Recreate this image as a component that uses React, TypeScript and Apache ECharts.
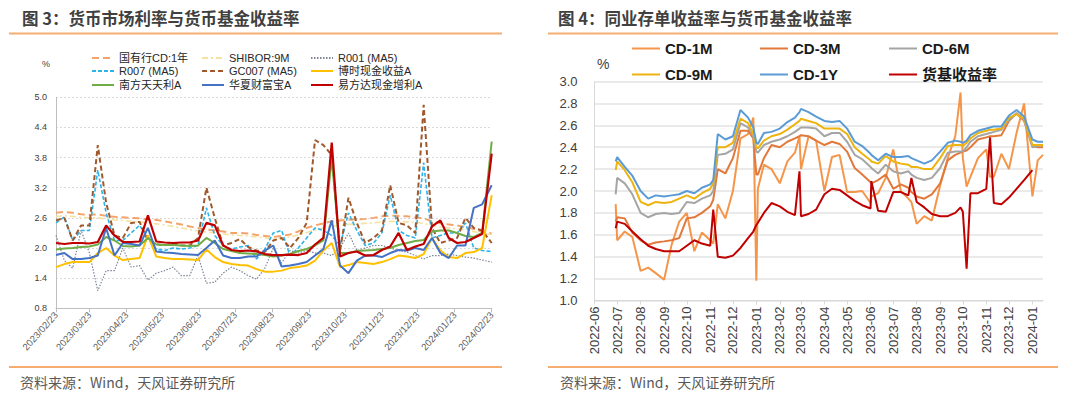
import React, { useEffect, useRef } from "react";
import * as echarts from "echarts";

// ---------------- Left chart (图3) ----------------
const leftDates = [
  "2023-02-23","2023-03-02","2023-03-09","2023-03-16","2023-03-23","2023-03-30","2023-04-06","2023-04-13","2023-04-20","2023-04-27",
  "2023-05-04","2023-05-11","2023-05-18","2023-05-25","2023-06-01","2023-06-08","2023-06-15","2023-06-22","2023-06-29","2023-07-06",
  "2023-07-13","2023-07-20","2023-07-27","2023-08-03","2023-08-10","2023-08-17","2023-08-24","2023-08-31","2023-09-07","2023-09-14",
  "2023-09-21","2023-09-28","2023-10-05","2023-10-12","2023-10-19","2023-10-26","2023-11-02","2023-11-09","2023-11-16","2023-11-23",
  "2023-11-30","2023-12-07","2023-12-14","2023-12-21","2023-12-28","2024-01-04","2024-01-11","2024-01-18","2024-01-25","2024-02-01",
  "2024-02-08","2024-02-15","2024-02-23"
];
const leftTickDates = [
  "2023-02-23","2023-03-23","2023-04-23","2023-05-23","2023-06-23","2023-07-23","2023-08-23",
  "2023-09-23","2023-10-23","2023-11-23","2023-12-23","2024-01-23","2024-02-23"
];
const cd1y = [2.70,2.72,2.70,2.67,2.66,2.67,2.64,2.62,2.61,2.60,2.59,2.57,2.56,2.53,2.50,2.47,2.43,2.40,2.37,2.35,2.33,2.30,2.30,2.29,2.26,2.24,2.22,2.24,2.27,2.33,2.40,2.45,2.49,2.53,2.55,2.56,2.57,2.58,2.60,2.63,2.64,2.64,2.63,2.61,2.59,2.53,2.49,2.47,2.45,2.42,2.38,2.32,2.29];
const shibor9m = [2.63,2.64,2.63,2.61,2.60,2.60,2.58,2.56,2.55,2.53,2.52,2.50,2.48,2.46,2.43,2.40,2.37,2.34,2.32,2.30,2.28,2.26,2.25,2.24,2.22,2.20,2.18,2.19,2.22,2.26,2.31,2.36,2.40,2.43,2.45,2.47,2.48,2.49,2.50,2.52,2.53,2.53,2.52,2.51,2.49,2.45,2.42,2.40,2.38,2.36,2.33,2.29,2.27];
const r001 = [2.25,1.75,1.60,2.35,1.90,1.15,1.55,1.55,2.00,1.62,1.65,1.36,1.50,1.55,1.62,1.45,1.45,1.85,1.30,1.32,1.50,1.62,1.55,1.45,1.38,1.60,
  2.00,1.70,1.95,1.90,1.95,1.90,1.90,1.85,2.00,2.30,1.95,2.00,2.05,2.05,2.00,1.95,1.92,1.85,1.78,1.85,1.85,1.88,1.85,1.82,1.80,1.76,1.72];
const r007 = [2.50,2.62,2.15,2.35,2.35,3.55,2.70,2.15,2.15,2.30,2.45,2.20,1.98,1.95,2.00,1.98,2.00,2.05,2.80,2.25,2.05,1.98,2.02,2.05,1.78,1.98,
  2.30,2.35,1.85,2.00,2.20,2.40,2.35,2.25,2.05,2.70,2.35,2.05,2.10,2.30,3.05,2.35,2.25,2.20,3.70,2.20,2.25,2.30,2.30,2.50,2.00,1.95,1.93];
const gc007 = [2.55,2.60,2.15,2.45,2.45,4.05,2.90,2.25,2.20,2.50,2.52,2.15,2.08,2.05,2.10,2.05,2.05,2.20,3.20,2.60,2.05,2.10,2.18,2.02,1.95,1.92,
  2.15,2.20,2.00,2.20,2.50,4.15,4.05,3.85,1.95,3.00,2.50,2.10,2.20,2.35,3.25,2.50,2.45,2.30,4.85,2.40,2.10,2.15,2.20,2.60,2.40,2.35,2.10];
const boshi = [1.62,1.68,1.72,1.72,1.72,1.90,2.00,1.85,1.76,1.78,1.80,2.25,1.83,1.80,1.78,1.78,1.77,1.76,1.97,1.82,1.72,1.68,1.66,1.65,1.58,1.53,
  1.53,1.55,1.60,1.62,1.65,1.75,1.95,2.10,1.62,1.66,1.72,1.70,1.68,1.72,1.78,1.85,1.83,1.80,1.88,2.20,1.95,1.82,1.80,1.90,1.92,2.00,3.05];
const nanfang = [1.97,1.99,2.00,2.02,2.03,2.07,2.22,2.15,2.04,2.03,2.05,2.20,2.07,2.06,2.06,2.05,2.04,2.05,2.20,2.10,1.98,1.94,1.90,1.89,1.88,1.86,
  1.83,1.85,1.88,1.94,1.98,2.05,2.15,3.80,1.90,1.90,1.94,1.95,1.96,1.98,2.00,2.06,2.10,2.14,2.16,2.33,2.35,2.35,2.30,2.24,2.22,2.30,4.12];
const huaxia = [1.86,1.90,1.78,1.78,1.80,1.85,2.40,1.85,2.10,2.08,2.05,2.40,1.93,1.91,1.90,1.88,1.87,1.86,2.00,2.15,1.85,1.80,1.80,1.83,1.83,1.95,
  2.05,1.63,1.65,1.68,1.72,1.85,1.98,2.55,1.65,1.50,1.75,1.85,1.85,1.82,1.90,1.96,1.95,2.00,1.96,2.20,1.90,1.80,2.05,2.05,2.80,2.87,3.25];
const yifangda = [2.10,2.08,2.10,2.10,2.09,2.12,2.45,2.25,2.12,2.12,2.13,2.65,2.13,2.11,2.10,2.11,2.11,2.15,2.50,2.45,2.05,1.96,1.94,1.95,1.93,1.88,
  1.86,1.86,1.87,1.86,1.90,2.07,2.20,4.10,1.83,1.90,1.93,1.85,1.86,1.96,2.03,2.30,1.96,2.03,2.08,2.43,2.55,2.20,2.10,2.12,2.20,2.28,3.88];

// ---------------- Right chart (图4) ----------------
const rightDates = [
  "2022-06-29","2022-07-01","2022-07-11","2022-07-21","2022-08-01","2022-08-11","2022-08-21","2022-09-01","2022-09-11","2022-09-21",
  "2022-10-01","2022-10-11","2022-10-21","2022-11-01","2022-11-05","2022-11-11","2022-11-21","2022-12-01","2022-12-11","2022-12-21",
  "2022-12-28","2023-01-01","2023-01-03","2023-01-11","2023-01-21","2023-02-01","2023-02-11","2023-02-21","2023-02-27","2023-03-01",
  "2023-03-11","2023-03-21","2023-04-01","2023-04-11","2023-04-21","2023-05-01","2023-05-11","2023-05-21","2023-06-01","2023-06-02",
  "2023-06-11","2023-06-21","2023-07-01","2023-07-11","2023-07-21","2023-07-25","2023-08-01","2023-08-11","2023-08-21","2023-09-01",
  "2023-09-11","2023-09-21","2023-09-28","2023-10-01","2023-10-06","2023-10-11","2023-10-21","2023-11-01","2023-11-06","2023-11-11",
  "2023-11-21","2023-12-01","2023-12-11","2023-12-21","2024-01-01","2024-01-08","2024-01-15"
];
const rightTickDates = [
  "2022-06-01","2022-07-01","2022-08-01","2022-09-01","2022-10-01","2022-11-01","2022-12-01","2023-01-01","2023-02-01","2023-03-01",
  "2023-04-01","2023-05-01","2023-06-01","2023-07-01","2023-08-01","2023-09-01","2023-10-01","2023-11-01","2023-12-01","2024-01-01"
];
const cd1m = [1.88,1.55,1.63,1.58,1.27,1.30,1.25,1.19,1.51,1.72,1.80,1.45,1.62,1.55,1.52,1.88,1.75,2.00,2.48,2.52,
  2.67,1.18,2.02,2.24,2.20,2.07,2.27,2.35,2.50,2.20,2.50,2.46,2.00,2.31,2.33,1.99,1.99,2.00,1.89,1.95,
  1.98,2.12,2.38,2.00,1.93,1.90,1.70,1.77,1.73,2.05,2.30,2.50,2.90,2.30,2.04,2.13,2.30,2.38,2.13,2.13,
  2.34,2.20,2.53,2.80,1.95,2.28,2.33];
const cd3m = [1.72,1.76,1.75,1.62,1.55,1.51,1.53,1.54,1.55,1.57,1.75,1.76,1.80,1.86,1.92,2.20,2.16,2.30,2.55,2.55,
  2.48,2.15,2.15,2.30,2.42,2.40,2.45,2.48,2.50,2.51,2.50,2.46,2.42,2.45,2.43,2.36,2.21,2.15,2.08,2.07,
  2.10,2.15,2.02,2.06,2.03,1.99,1.95,1.93,1.97,2.07,2.28,2.33,2.35,2.36,2.37,2.40,2.47,2.49,2.50,2.50,
  2.51,2.64,2.71,2.64,2.41,2.40,2.40];
const cd6m = [1.97,2.12,2.07,1.97,1.80,1.76,1.79,1.80,1.79,1.80,1.90,1.89,1.93,1.96,2.00,2.33,2.34,2.38,2.62,2.58,
  2.50,2.36,2.35,2.42,2.45,2.47,2.50,2.54,2.57,2.58,2.58,2.57,2.50,2.53,2.53,2.45,2.33,2.29,2.22,2.21,
  2.16,2.24,2.18,2.16,2.18,2.15,2.12,2.10,2.12,2.21,2.35,2.36,2.36,2.36,2.40,2.45,2.50,2.52,2.53,2.54,
  2.56,2.65,2.71,2.65,2.40,2.41,2.42];
const cd9m = [2.19,2.27,2.19,2.08,1.90,1.87,1.90,1.89,1.90,1.93,1.96,1.93,1.98,2.02,2.07,2.40,2.40,2.44,2.66,2.62,
  2.52,2.40,2.39,2.46,2.50,2.52,2.56,2.61,2.64,2.66,2.64,2.62,2.57,2.57,2.57,2.52,2.40,2.34,2.28,2.27,
  2.25,2.32,2.27,2.25,2.24,2.22,2.22,2.20,2.20,2.30,2.41,2.42,2.42,2.41,2.44,2.48,2.53,2.55,2.56,2.56,
  2.57,2.67,2.70,2.66,2.42,2.42,2.42];
const cd1yR = [2.27,2.31,2.22,2.14,2.00,1.93,1.96,1.95,1.96,1.97,2.00,1.98,2.03,2.06,2.10,2.52,2.47,2.50,2.74,2.67,
  2.58,2.44,2.43,2.53,2.54,2.57,2.63,2.67,2.72,2.75,2.72,2.68,2.64,2.63,2.64,2.57,2.45,2.41,2.34,2.33,
  2.28,2.34,2.31,2.31,2.32,2.30,2.28,2.25,2.28,2.36,2.44,2.46,2.45,2.44,2.46,2.51,2.55,2.57,2.58,2.59,
  2.59,2.69,2.74,2.68,2.47,2.45,2.45];
const mmfYield = [1.66,1.72,1.70,1.63,1.56,1.50,1.47,1.45,1.45,1.45,1.50,1.55,1.52,1.50,1.83,1.40,1.39,1.41,1.48,1.57,
  1.63,1.69,1.71,1.80,1.89,1.86,1.81,1.78,2.18,1.77,1.79,1.83,1.97,2.02,2.01,1.96,1.91,1.87,1.84,2.09,
  1.82,1.81,1.99,1.99,1.96,2.12,1.90,1.85,1.79,1.77,1.77,1.80,1.85,1.81,1.29,1.98,1.98,2.02,2.49,1.89,
  1.88,1.94,2.02,2.10,2.19,null,null];

// ---------------- helpers ----------------
const DAY = 86400000;
const toTs = (d: string) => {
  const [y, m, day] = d.split("-").map(Number);
  return Date.UTC(y, m - 1, day);
};
const pad = (n: number) => (n < 10 ? "0" + n : "" + n);
const LEFT_BASE = "2023-02-23";
const RIGHT_BASE = "2022-06-01";
const dayNum = (d: string, base: string) => Math.round((toTs(d) - toTs(base)) / DAY);
const pairs = (dates: string[], vals: (number | null)[], base: string) =>
  vals
    .map((v, i) => (v === null ? null : [dayNum(dates[i], base), v]))
    .filter((p) => p !== null);
const fromDay = (v: number, base: string) => new Date(toTs(base) + Math.round(v) * DAY);

const CJK = "'Noto Sans CJK SC', sans-serif";
const MIX = "'Liberation Sans', Arial, 'Noto Sans CJK SC', sans-serif";

const leftSeriesDefs = [
  { name: "国有行CD:1年", data: cd1y, color: "#F4A46A", width: 2, type: [7, 4] as any },
  { name: "SHIBOR:9M", data: shibor9m, color: "#F6E2A0", width: 1.6, type: [6, 3, 2, 3] as any },
  { name: "R001 (MA5)", data: r001, color: "#7D8597", width: 1.2, type: [1.5, 1.5] as any },
  { name: "R007 (MA5)", data: r007, color: "#2DB3EA", width: 1.6, type: [4, 2] as any },
  { name: "GC007 (MA5)", data: gc007, color: "#A0592C", width: 2, type: [5, 3] as any },
  { name: "博时现金收益A", data: boshi, color: "#FFC000", width: 2, type: "solid" as any },
  { name: "南方天天利A", data: nanfang, color: "#70AD47", width: 2, type: "solid" as any },
  { name: "华夏财富宝A", data: huaxia, color: "#4472C4", width: 2, type: "solid" as any },
  { name: "易方达现金增利A", data: yifangda, color: "#C00000", width: 2.2, type: "solid" as any },
];
const rightSeriesDefs = [
  { name: "CD-1M", data: cd1m, color: "#F5954A" },
  { name: "CD-3M", data: cd3m, color: "#E2783A" },
  { name: "CD-6M", data: cd6m, color: "#A5A5A5" },
  { name: "CD-9M", data: cd9m, color: "#EDB30F" },
  { name: "CD-1Y", data: cd1yR, color: "#5B9BD5" },
  { name: "货基收益率", data: mmfYield, color: "#C00000" },
];

const leftLegendPos = [
  [91, 52.5], [201, 52.5], [310, 52.5],
  [91, 65.5], [201, 65.5], [310, 65.5],
  [91, 79.5], [201, 79.5], [310, 79.5],
];
const rightLegendPos = [
  [631, 41], [759, 41], [888, 41],
  [631, 67], [759, 67], [888, 67],
];

export default function App() {
  const ref = useRef<HTMLDivElement>(null);
  useEffect(() => {
    if (!ref.current) return;
    const chart = echarts.init(ref.current, undefined, { renderer: "svg" });

    const leftTicks = leftTickDates.map((d) => dayNum(d, LEFT_BASE));
    const rightTicks = rightTickDates.map((d) => dayNum(d, RIGHT_BASE));

    const legends: any[] = [];
    leftSeriesDefs.forEach((s, i) => {
      legends.push({
        data: [s.name],
        left: leftLegendPos[i][0],
        top: leftLegendPos[i][1],
        padding: 0,
        itemWidth: 22,
        itemHeight: 8,
        selectedMode: false,
        itemStyle: { opacity: 0 },
        textStyle: { fontSize: 11, color: "#262626", fontFamily: MIX },
      });
    });
    rightSeriesDefs.forEach((s, i) => {
      legends.push({
        data: [s.name],
        left: rightLegendPos[i][0],
        top: rightLegendPos[i][1],
        padding: 0,
        itemWidth: 28,
        itemHeight: 10,
        selectedMode: false,
        itemStyle: { opacity: 0 },
        textStyle: { fontSize: 15, fontWeight: "bold", color: "#1a1a1a", fontFamily: MIX },
      });
    });

    const series: any[] = [];
    leftSeriesDefs.forEach((s) => {
      series.push({
        name: s.name,
        type: "line",
        xAxisIndex: 0,
        yAxisIndex: 0,
        data: pairs(leftDates, s.data, LEFT_BASE),
        symbol: "none",
        showSymbol: false,
        color: s.color,
        lineStyle: { color: s.color, width: s.width, type: s.type },
      });
    });
    rightSeriesDefs.forEach((s) => {
      series.push({
        name: s.name,
        type: "line",
        xAxisIndex: 1,
        yAxisIndex: 1,
        data: pairs(rightDates, s.data, RIGHT_BASE),
        symbol: "none",
        showSymbol: false,
        color: s.color,
        lineStyle: { color: s.color, width: 2 },
      });
    });

    const option: any = {
      animation: false,
      backgroundColor: "#ffffff",
      grid: [
        { left: 56, top: 97.3, width: 435.7, height: 211 },
        { left: 594.5, top: 81.5, width: 448.5, height: 219 },
      ],
      legend: legends,
      xAxis: [
        {
          type: "value",
          gridIndex: 0,
          min: 0,
          max: dayNum("2024-02-23", LEFT_BASE),
          axisLine: { show: true, lineStyle: { color: "#BFBFBF", width: 1 } },
          axisTick: { show: true, customValues: leftTicks, length: 4, lineStyle: { color: "#BFBFBF" } },
          axisLabel: {
            customValues: leftTicks,
            rotate: 48,
            fontSize: 9.5,
            color: "#595959",
            margin: 5,
            fontFamily: MIX,
            formatter: (v: number) => {
              const d = fromDay(v, LEFT_BASE);
              return d.getUTCFullYear() + "/" + pad(d.getUTCMonth() + 1) + "/" + pad(d.getUTCDate());
            },
          },
          splitLine: { show: false },
        },
        {
          type: "value",
          gridIndex: 1,
          min: 0,
          max: dayNum("2024-01-15", RIGHT_BASE),
          axisLine: { show: true, lineStyle: { color: "#D9D9D9", width: 1 } },
          axisTick: { show: true, customValues: rightTicks, length: 4, lineStyle: { color: "#D9D9D9" } },
          axisLabel: {
            customValues: rightTicks,
            rotate: 90,
            fontSize: 13,
            color: "#404040",
            margin: 6,
            fontFamily: MIX,
            formatter: (v: number) => {
              const d = fromDay(v, RIGHT_BASE);
              return d.getUTCFullYear() + "-" + pad(d.getUTCMonth() + 1);
            },
          },
          splitLine: { show: false },
        },
      ],
      yAxis: [
        {
          type: "value",
          gridIndex: 0,
          min: 0.8,
          max: 5.0,
          interval: 0.6,
          axisLine: { show: true, lineStyle: { color: "#BFBFBF" } },
          axisTick: { show: false },
          axisLabel: {
            fontSize: 9,
            color: "#404040",
            margin: 9,
            fontFamily: MIX,
            formatter: (v: number) => v.toFixed(1),
          },
          splitLine: { show: true, lineStyle: { color: "#D9D9D9", type: [2, 2], width: 1 } },
        },
        {
          type: "value",
          gridIndex: 1,
          min: 1.0,
          max: 3.0,
          interval: 0.2,
          axisLine: { show: true, lineStyle: { color: "#D9D9D9" } },
          axisTick: { show: false },
          axisLabel: {
            fontSize: 13,
            color: "#404040",
            margin: 17,
            fontFamily: MIX,
            formatter: (v: number) => v.toFixed(1),
          },
          splitLine: { show: true, lineStyle: { color: "#E3E3E3", width: 1.5 } },
        },
      ],
      series,
      graphic: [
        { type: "text", left: 22, top: 10, style: { text: "图 3：货币市场利率与货币基金收益率", fontSize: 16.5, fontWeight: "bold", fill: "#404040", fontFamily: CJK } },
        { type: "text", left: 558, top: 10, style: { text: "图 4：同业存单收益率与货币基金收益率", fontSize: 16.5, fontWeight: "bold", fill: "#404040", fontFamily: CJK } },
        { type: "line", shape: { x1: 9, y1: 33.5, x2: 502, y2: 33.5 }, style: { stroke: "#F6AD72", lineWidth: 2 } },
        { type: "line", shape: { x1: 548, y1: 33.5, x2: 1058, y2: 33.5 }, style: { stroke: "#F6AD72", lineWidth: 2 } },
        { type: "line", shape: { x1: 9, y1: 367, x2: 502, y2: 367 }, style: { stroke: "#F6AD72", lineWidth: 2 } },
        { type: "line", shape: { x1: 548, y1: 367, x2: 1058, y2: 367 }, style: { stroke: "#F6AD72", lineWidth: 2 } },
        { type: "text", left: 20, top: 375, style: { text: "资料来源：Wind，天风证券研究所", fontSize: 14, fill: "#595959", fontFamily: CJK } },
        { type: "text", left: 560, top: 375, style: { text: "资料来源：Wind，天风证券研究所", fontSize: 14, fill: "#595959", fontFamily: CJK } },
        { type: "text", left: 42, top: 59, style: { text: "%", fontSize: 9, fill: "#404040", fontFamily: MIX } },
        { type: "text", left: 597, top: 57, style: { text: "%", fontSize: 14, fill: "#404040", fontFamily: MIX } },
      ],
    };
    chart.setOption(option);
    return () => chart.dispose();
  }, []);

  return (
    <div
      ref={ref}
      style={{ position: "fixed", left: 0, top: 0, width: 1080, height: 398, background: "#fff" }}
    />
  );
}
